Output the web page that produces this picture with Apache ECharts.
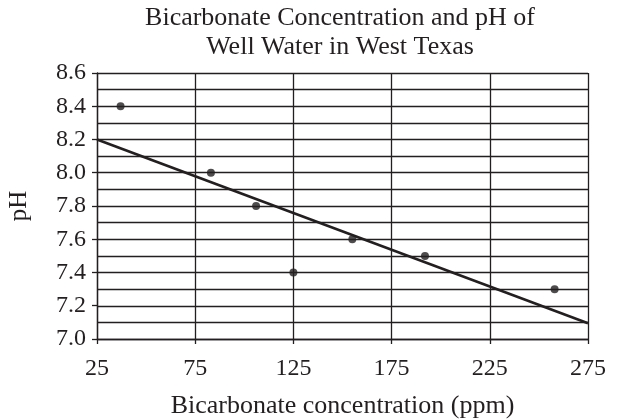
<!DOCTYPE html>
<html>
<head>
<meta charset="utf-8">
<script src="https://cdn.jsdelivr.net/npm/echarts@6/dist/echarts.min.js"></script>
<style>
  html, body { margin: 0; padding: 0; background: #fff; }
  #chart { width: 617px; height: 420px; }
</style>
</head>
<body>
<div id="chart"></div>
<script>
const concentration = [37, 83, 106, 125, 155, 192, 258];
const phValues = [8.4, 8.0, 7.8, 7.4, 7.6, 7.5, 7.3];
// 趋势线两端
const trendX = [25, 275];
const trendY = [8.2, 7.095];

const INK = "#231f20";
const FONT = "'Liberation Serif', 'DejaVu Serif', serif";

const chart = echarts.init(document.getElementById("chart"));

chart.setOption({
  animation: false,
  textStyle: { fontFamily: FONT, color: INK },
  title: {
    text: "Bicarbonate Concentration and pH of\nWell Water in West Texas",
    left: 340,
    textAlign: "center",
    top: 4,
    padding: 0,
    textStyle: { fontFamily: FONT, color: INK, fontSize: 26, fontWeight: "normal", lineHeight: 29 },
  },
  grid: { left: 97, right: 29, top: 73, bottom: 81, outerBoundsMode: "none", containLabel: false },
  xAxis: {
    type: "value",
    min: 25,
    max: 275,
    interval: 50,
    name: "Bicarbonate concentration (ppm)",
    nameLocation: "middle",
    nameGap: 54,
    nameTextStyle: { fontFamily: FONT, color: INK, fontSize: 26 },
    axisLine: { show: true, lineStyle: { color: INK, width: 1.3 } },
    axisTick: { show: true, length: 5, lineStyle: { color: INK, width: 1.3 } },
    axisLabel: { fontFamily: FONT, color: INK, fontSize: 24, margin: 18 },
    splitLine: { show: true, lineStyle: { color: INK, width: 1.3 } },
  },
  yAxis: {
    type: "value",
    min: 7.0,
    max: 8.6,
    interval: 0.2,
    name: "pH",
    nameLocation: "middle",
    nameGap: 65,
    nameTextStyle: { fontFamily: FONT, color: INK, fontSize: 25 },
    axisLine: { show: true, lineStyle: { color: INK, width: 1.3 } },
    axisTick: { show: true, length: 5, lineStyle: { color: INK, width: 1.3 } },
    axisLabel: {
      fontFamily: FONT, color: INK, fontSize: 24, margin: 11,
      formatter: v => v.toFixed(1),
    },
    splitLine: { show: true, lineStyle: { color: INK, width: 1.3 } },
    minorTick: { show: false, splitNumber: 2 },
    minorSplitLine: { show: true, lineStyle: { color: INK, width: 1.3 } },
  },
  series: [
    {
      type: "line",
      data: trendX.map((x, i) => [x, trendY[i]]),
      symbol: "none",
      lineStyle: { color: INK, width: 2.6 },
      z: 3,
    },
    {
      type: "scatter",
      data: concentration.map((x, i) => [x, phValues[i]]),
      symbol: "circle",
      symbolSize: 8,
      itemStyle: { color: INK },
      z: 4,
    },
  ],
});
</script>
</body>
</html>
